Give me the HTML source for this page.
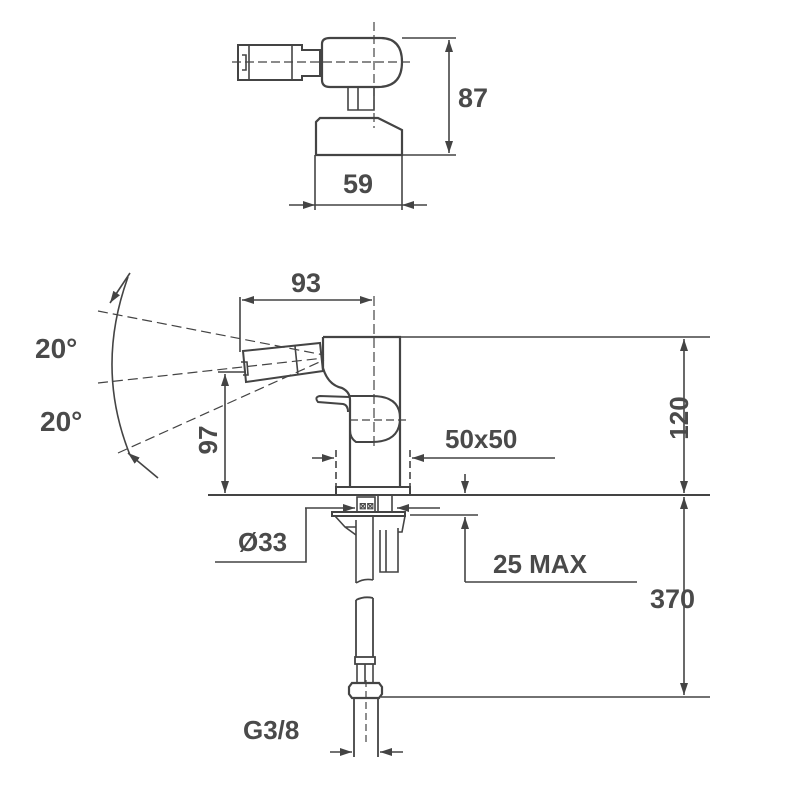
<!DOCTYPE html>
<html><head><meta charset="utf-8"><style>
html,body{margin:0;padding:0;background:#fff}
svg{display:block}
text{font-family:"Liberation Sans",sans-serif;font-weight:bold;fill:#4a4a4a}
</style></head><body>
<svg width="800" height="800" viewBox="0 0 800 800" xmlns="http://www.w3.org/2000/svg">
<defs>
<marker id="a" viewBox="0 0 10 10" refX="10" refY="5" markerWidth="12" markerHeight="8" markerUnits="userSpaceOnUse" orient="auto-start-reverse" preserveAspectRatio="none"><path d="M0,0L10,5L0,10z" fill="#444"/></marker>
</defs>
<g stroke="#444" fill="none" stroke-width="1.6">
<!-- TOP VIEW -->
<line x1="374" y1="22" x2="374" y2="128" stroke-dasharray="9,4" stroke-width="1.2"/>
<line x1="232" y1="62" x2="410" y2="62" stroke-dasharray="9,4" stroke-width="1.2"/>
<path d="M322,44 Q322,38 330,38 L380,38 Q402,38 402,62 Q402,87 378,87 L330,87 Q322,87 322,80 Z" stroke-width="2.2"/>
<path d="M238,45 L302,45 L302,50 L320,50 L320,76 L302,76 L302,80 L238,80 Z" stroke-width="2"/>
<line x1="249" y1="45" x2="249" y2="80"/><line x1="292" y1="45" x2="292" y2="80"/>
<path d="M242,55 L246,55 L246,70 L242,70"/>
<path d="M348,87 L348,110 L374,110 L374,87 M358,87 L358,110"/>
<path d="M320,118 L378,118 L402,130 L402,155 L316,155 L316,122 Z" stroke-width="2.2"/>
<line x1="402" y1="38" x2="456" y2="38"/><line x1="402" y1="155" x2="456" y2="155"/>
<line x1="449" y1="40" x2="449" y2="153" marker-start="url(#a)" marker-end="url(#a)"/>
<line x1="315" y1="155" x2="315" y2="210"/><line x1="402" y1="155" x2="402" y2="210"/>
<line x1="289" y1="205" x2="315" y2="205" marker-end="url(#a)"/>
<line x1="427" y1="205" x2="402" y2="205" marker-end="url(#a)"/>
<line x1="315" y1="205" x2="402" y2="205"/>

<!-- MAIN VIEW -->
<line x1="208" y1="495" x2="710" y2="495" stroke-width="2"/>
<line x1="374" y1="296" x2="374" y2="446" stroke-dasharray="10,4" stroke-width="1.2"/>
<path d="M323,337 L400,337 L400,488" stroke-width="2.2"/>
<path d="M323,337 L323,368 Q328,385 342,388 Q350,392 350,400 L350,488" stroke-width="2.2"/>
<path d="M350,397 L320,396 Q314,397 318,402 L343,404 Q348,405 348,412" stroke-width="2"/>
<path d="M350,396 L372,396 Q400,396 400,418 Q400,442 372,442 L356,442 Q350,438 350,430" stroke-width="2"/>
<line x1="350" y1="420" x2="408" y2="420" stroke-dasharray="8,4" stroke-width="1.2"/>
<rect x="336" y="487" width="74" height="8" stroke-width="2"/>
<!-- cartridge -->
<path d="M243,351 L320,343 L323,371 L246,382 Z" stroke-width="2"/>
<line x1="295" y1="346" x2="298" y2="375"/>
<path d="M241,362 L247,362 L248,375 L243,375"/>
<!-- angle lines -->
<g stroke-dasharray="10,5" stroke-width="1.2">
<line x1="98" y1="311" x2="324" y2="355"/>
<line x1="98" y1="383" x2="324" y2="358"/>
<line x1="118" y1="453" x2="324" y2="360"/>
</g>
<path d="M128,277 Q95,368 130,455"/>
<line x1="130" y1="273" x2="110" y2="303" marker-end="url(#a)"/>
<line x1="158" y1="478" x2="128" y2="453" marker-end="url(#a)"/>
<!-- 93 -->
<line x1="240" y1="297" x2="240" y2="352"/>
<line x1="242" y1="300" x2="372" y2="300" marker-start="url(#a)" marker-end="url(#a)"/>
<!-- 97 -->
<line x1="218" y1="372" x2="245" y2="372"/>
<line x1="225" y1="374" x2="225" y2="493" marker-start="url(#a)" marker-end="url(#a)"/>
<!-- 120 / 370 -->
<line x1="400" y1="337" x2="710" y2="337"/>
<line x1="684" y1="339" x2="684" y2="493" marker-start="url(#a)" marker-end="url(#a)"/>
<line x1="684" y1="497" x2="684" y2="695" marker-start="url(#a)" marker-end="url(#a)"/>
<line x1="381" y1="697" x2="710" y2="697"/>
<!-- 50x50 -->
<line x1="336" y1="450" x2="336" y2="487" stroke-dasharray="7,4"/>
<line x1="410" y1="450" x2="410" y2="487" stroke-dasharray="7,4"/>
<line x1="312" y1="458" x2="334" y2="458" marker-end="url(#a)"/>
<line x1="555" y1="458" x2="412" y2="458" marker-end="url(#a)"/>
<!-- below floor -->
<rect x="357" y="497" width="18" height="15" stroke-width="1.6"/>
<path d="M378,495 L378,513 M392,495 L392,513"/>
<path d="M332,512 L405,512 L405,516 L332,516 Z" stroke-width="2"/>
<path d="M335,516 L345,527 L356,527 M405,516 L402,532 L398,532 M345,527 L356,535"/>
<path d="M356,520 L356,583 M373,516 L373,580 M356,583 Q364,578 373,580"/>
<path d="M380,530 L380,572 L398,572 L398,528 M386,530 L386,572"/>
<line x1="305" y1="508" x2="355" y2="508" marker-end="url(#a)"/>
<line x1="440" y1="508" x2="397" y2="508" marker-end="url(#a)"/>
<path d="M306,508 L306,562 L215,562"/>
<!-- 25 MAX -->
<line x1="410" y1="515" x2="478" y2="515"/>
<line x1="465" y1="474" x2="465" y2="493" marker-end="url(#a)"/>
<line x1="465" y1="582" x2="465" y2="517" marker-end="url(#a)"/>
<line x1="465" y1="582" x2="637" y2="582"/>
<!-- lower hose -->
<path d="M356,600 Q364,596 373,598 M356,600 L356,657 M373,598 L373,657" stroke-width="1.8"/>
<rect x="355" y="657" width="20" height="7" stroke-width="1.8"/>
<path d="M357,664 L357,683 M373,664 L373,683 M365,664 L365,683"/>
<path d="M352,683 L379,683 L382,687 L382,694 L379,698 L352,698 L349,694 L349,687 Z" stroke-width="2.2"/>
<path d="M354,698 L354,757 M378,698 L378,757" stroke-width="1.8"/>
<line x1="366" y1="680" x2="366" y2="745" stroke-dasharray="7,4" stroke-width="1.2"/>
<line x1="330" y1="752" x2="352" y2="752" marker-end="url(#a)"/>
<line x1="403" y1="752" x2="380" y2="752" marker-end="url(#a)"/>
</g>
<g font-size="11" fill="#444"><text x="359" y="509" font-size="9">⊠⊠</text></g>
<text x="458" y="107" font-size="27">87</text>
<text x="358" y="193" font-size="27" text-anchor="middle">59</text>
<text x="306" y="292" font-size="27" text-anchor="middle">93</text>
<text x="35" y="358" font-size="28">20°</text>
<text x="40" y="431" font-size="28">20°</text>
<text transform="translate(217,440) rotate(-90)" font-size="26" text-anchor="middle">97</text>
<text transform="translate(688,418) rotate(-90)" font-size="26" text-anchor="middle">120</text>
<text x="445" y="448" font-size="26">50x50</text>
<text x="238" y="551" font-size="26">Ø33</text>
<text x="493" y="573" font-size="26">25 MAX</text>
<text x="650" y="608" font-size="27">370</text>
<text x="243" y="739" font-size="26">G3/8</text>
</svg>
</body></html>
